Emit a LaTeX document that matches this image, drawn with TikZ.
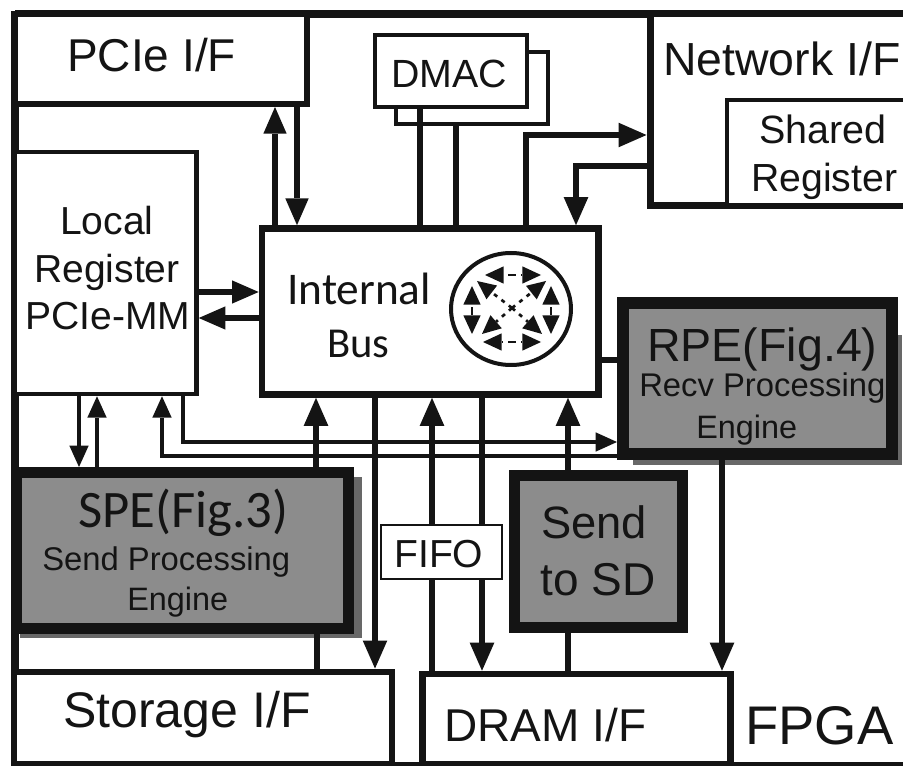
\documentclass[tikz,border=0pt]{standalone}
\usepackage{fontspec}
\setmainfont{Liberation Sans}
\newfontfamily\carl{Carlito}
\usetikzlibrary{arrows.meta,fit,shapes.geometric}
\definecolor{ink}{HTML}{141414}
\definecolor{panel}{HTML}{8C8C8C}
\definecolor{shadowgrey}{HTML}{686868}
\newcommand\fsz[1]{\fontsize{#1}{#1}\selectfont}
\tikzset{
  x=0.75pt,y=-0.75pt,
  boxn/.style={draw=ink,fill=white,inner sep=0pt},
  engine/.style={draw=ink,fill=panel,inner sep=0pt},
  txt/.style={inner sep=0pt,anchor=base west,text=ink},
  smallhead/.style={-{Triangle[length=16pt,width=14.5pt,line width=0pt]}},
  midhead/.style={-{Triangle[length=20pt,width=17.5pt,line width=0pt]}},
  bighead/.style={-{Triangle[length=21pt,width=18.5pt,line width=0pt]}},
  link/.style={draw=ink,line width=5pt},
  thin link/.style={draw=ink,line width=3.5pt},
  icontip/.style={-{Triangle[length=14pt,width=13pt,line width=0pt]}},
}
\begin{document}
\begin{tikzpicture}
\useasboundingbox (0,0) rectangle (903,766);
\fill[white] (0,0) rectangle (903,766);
% frame
\draw[ink,line width=6pt] (15,14) -- (907,14);
\draw[ink,line width=6pt] (15,11) -- (15,766);
% boxes
\node[boxn,line width=4.5pt,fit={(15,14)(307,104)},name=pcie] {};
\node[boxn,line width=3pt,fit={(396,52)(548,124)},name=dmacb] {};
\node[boxn,line width=3pt,fit={(375,35)(527,107)},name=dmac] {};
\node[boxn,line width=5.25pt,fit={(650,14)(907,205.5)},name=net] {};
\node[boxn,line width=3.4pt,fit={(727,100)(907,205)},name=shared] {};
\node[boxn,line width=3.4pt,fit={(15,152)(196.5,394)},name=local] {};
\node[boxn,line width=5pt,fit={(262,228.5)(598.5,394.5)},name=bus] {};
\fill[shadowgrey] (633,335) rectangle (902,465);
\node[engine,line width=9pt,fit={(623,303)(892,454)},name=rpe] {};
\fill[shadowgrey] (20,477) rectangle (362,638);
\node[engine,line width=8.25pt,fit={(16.5,472.5)(348,628.5)},name=spe] {};
\node[engine,line width=8.25pt,fit={(514.5,475)(682,627.5)},name=sd] {};
\node[boxn,line width=4.5pt,fit={(14,671.5)(392,764)},name=storage] {};
\node[boxn,line width=4.9pt,fit={(422.5,674)(730.5,764)},name=dram] {};
\draw[ink,line width=3pt] (15,764) -- (907,764);
% connectors
\draw[link,midhead] (bus.north -| 275,0) -- (pcie.south -| 275,0);
\draw[link,midhead] (pcie.south -| 297,0) -- (bus.north -| 297,0);
\draw[link] (dmac.south -| 420,0) -- (bus.north -| 420,0);
\draw[link] (dmacb.south -| 456,0) -- (bus.north -| 456,0);
\draw[link,bighead] (bus.north -| 526,0) |- (net.west |- 0,135);
\draw[link,bighead] (net.west |- 0,166) -| (bus.north -| 576,0);
\draw[link,midhead] (local.east |- 0,292) -- (bus.west |- 0,292);
\draw[link,midhead] (bus.west |- 0,318) -- (local.east |- 0,318);
\draw[thin link,smallhead] (local.south -| 79,0) -- (spe.north -| 79,0);
\draw[thin link,smallhead] (spe.north -| 97,0) -- (local.south -| 97,0);
\draw[thin link,smallhead] (rpe.west |- 0,456) -| (local.south -| 162,0);
\draw[thin link,smallhead] (local.south -| 183,0) |- (rpe.west |- 0,442);
\draw[link,bighead] (spe.north -| 316,0) -- (bus.south -| 316,0);
\draw[link] (spe.south -| 317,0) -- (storage.north -| 317,0);
\draw[link,bighead] (bus.south -| 375,0) -- (storage.north -| 375,0);
\draw[link,bighead] (dram.north -| 432,0) -- (bus.south -| 432,0);
\draw[link,bighead] (bus.south -| 482,0) -- (dram.north -| 482,0);
\draw[link,bighead] (sd.north -| 568,0) -- (bus.south -| 568,0);
\draw[link] (sd.south -| 568,0) -- (dram.north -| 568,0);
\draw[link,bighead] (rpe.south -| 722,0) -- (dram.north -| 722,0);
\draw[link] (bus.east |- 0,360) -- (rpe.west |- 0,360);
% fifo on top of the lines
\node[boxn,line width=1.5pt,fit={(381,525)(502,579)},name=fifo] {};
% switch icon
\node[draw=ink,fill=white,line width=3pt,ellipse,inner sep=0pt,minimum width=90pt,minimum height=84pt] (icon) at (511,309) {};
\foreach \ax/\ay/\bx/\by in {512/275/485/275,512/275/541/275,512/342/483/342,512/342/541/342,
   472/311/472/286,472/311/472/334,551/311/551/286,551/311/551/334,
   512/308/477/281,512/308/546/281,512/308/482/334,512/308/542/334}
  \draw[ink,line width=2pt,dash pattern=on 3pt off 4pt,icontip] (\ax,\ay) -- (\bx,\by);
% labels
\node[txt,font=\fsz{34.5}] (t1) at (67,72) {PCIe I/F};
\node[txt,font=\fsz{29.5}] (t2) at (391,88) {DMAC};
\node[txt,font=\fsz{34.8}] (t3) at (663,76) {Network I/F};
\node[txt,font=\fsz{29.6}] (t4) at (759,144) {Shared};
\node[txt,font=\fsz{29.4}] (t5) at (751,192) {Register};
\node[txt,font=\fsz{29.3}] (t6) at (60,235) {Local};
\node[txt,font=\fsz{29.3}] (t7) at (34,283) {Register};
\node[txt,font=\fsz{29.3}] (t8) at (25,330) {PCIe-MM};
\node[txt,font=\carl\fsz{34}] (t9) at (287,305) {Internal};
\node[txt,font=\carl\fsz{32}] (t10) at (327,358) {Bus};
\node[txt,font=\fsz{34.9}] (t11) at (647,362) {RPE(Fig.4)};
\node[txt,font=\fsz{24.6}] (t12) at (639,397) {Recv Processing};
\node[txt,font=\fsz{24.3}] (t13) at (696,438) {Engine};
\node[txt,font=\carl\fsz{39.5}] (t14) at (78,527) {SPE(Fig.3)};
\node[txt,font=\fsz{24.6}] (t15) at (42,570) {Send Processing};
\node[txt,font=\fsz{24.3}] (t16) at (127,610) {Engine};
\node[txt,font=\fsz{34}] (t17) at (541,538) {Send};
\node[txt,font=\fsz{34.5}] (t18) at (540,595) {to SD};
\node[txt,font=\fsz{29.3}] (t19) at (394,567) {FIFO};
\node[txt,font=\fsz{37.5}] (t20) at (63,727) {Storage I/F};
\node[txt,font=\fsz{34.5}] (t21) at (444,741) {DRAM I/F};
\node[txt,font=\fsz{40.8}] (t22) at (745,744) {FPGA};
\end{tikzpicture}
\end{document}
